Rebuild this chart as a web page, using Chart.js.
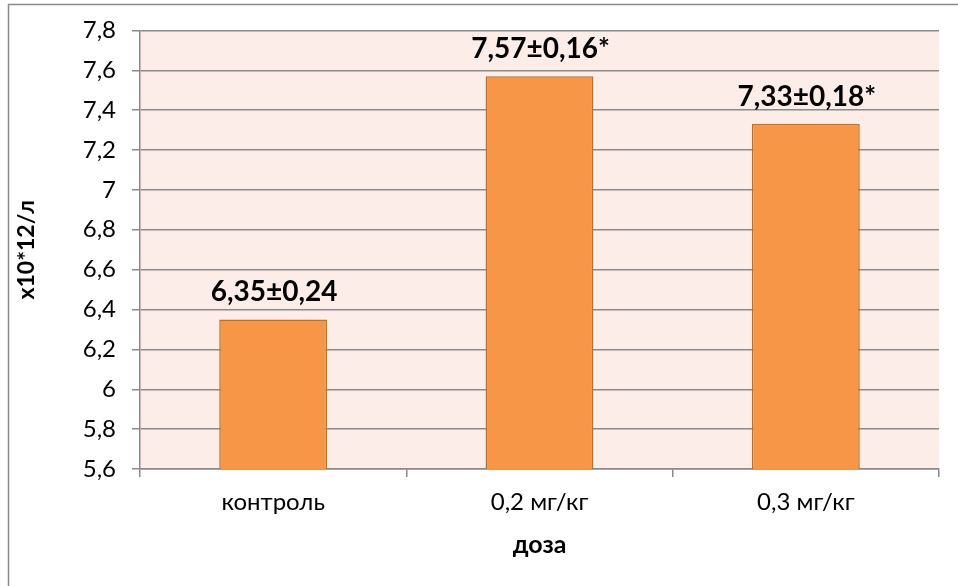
<!DOCTYPE html>
<html>
<head>
<meta charset="utf-8">
<script src="https://cdn.jsdelivr.net/npm/chart.js@4"></script>
<style>
html,body{margin:0;padding:0;background:#fff;}
#wrap{position:relative;width:958px;height:586px;}
</style>
</head>
<body>
<div id="wrap"><canvas id="c" width="958" height="586"></canvas></div>
<script>
const categories = ['контроль', '0,2 мг/кг', '0,3 мг/кг'];
const values = [6.35, 7.57, 7.33];
const valueLabels = ['6,35±0,24', '7,57±0,16*', '7,33±0,18*'];
const yAxisTitle = 'x10*12/л';
const xAxisTitle = 'доза';
const yMin = 5.6, yMax = 7.8, yStep = 0.2;

const FONT = 'Lato, "Open Sans", sans-serif';

const bgPlugin = {
  id: 'bg',
  beforeDraw(chart) {
    const {ctx, chartArea: a} = chart;
    ctx.save();
    ctx.fillStyle = '#FCEDE8';
    ctx.fillRect(a.left, a.top, a.right - a.left, a.bottom - a.top);
    ctx.strokeStyle = '#8a8a8a';
    ctx.lineWidth = 1.5;
    ctx.beginPath();
    ctx.moveTo(8.5, 586);
    ctx.lineTo(8.5, 4.5);
    ctx.lineTo(958, 4.5);
    ctx.stroke();
    ctx.restore();
  }
};

const labelPlugin = {
  id: 'valLabels',
  afterDatasetsDraw(chart) {
    const {ctx} = chart;
    const meta = chart.getDatasetMeta(0);
    ctx.save();
    ctx.font = 'bold 28px ' + FONT;
    ctx.fillStyle = '#000';
    ctx.textAlign = 'center';
    ctx.textBaseline = 'alphabetic';
    meta.data.forEach((bar, i) => {
      ctx.fillText(valueLabels[i], bar.x + 1, bar.y - 18);
    });
    ctx.restore();
  }
};

new Chart(document.getElementById('c'), {
  type: 'bar',
  data: {
    labels: categories,
    datasets: [{
      data: values,
      backgroundColor: '#F79646',
      borderColor: '#B8702F',
      borderWidth: 1.5,
      barPercentage: 0.405,
      categoryPercentage: 1.0
    }]
  },
  options: {
    responsive: false,
    animation: false,
    devicePixelRatio: 1,
    layout: {padding: {left: 8, top: 30, right: 19, bottom: 0}},
    plugins: {legend: {display: false}, tooltip: {enabled: false}},
    scales: {
      x: {
        grid: {display: true, drawOnChartArea: false, color: '#8a8a8a', lineWidth: 1.5, tickLength: 8, offset: true},
        border: {display: true, color: '#8a8a8a', width: 1.5},
        ticks: {color: '#000', font: {family: FONT, size: 24}, padding: 11, maxRotation: 0},
        title: {display: true, text: xAxisTitle, color: '#000', font: {family: FONT, size: 25, weight: 'bold'}, padding: {top: 4, bottom: 26}},
        afterFit(scale) { scale.height = 117; }
      },
      y: {
        min: yMin, max: yMax,
        grid: {color: '#8a8a8a', lineWidth: 1.5, tickLength: 8},
        border: {display: true, color: '#8a8a8a', width: 1.5},
        ticks: {
          stepSize: yStep, color: '#000', font: {family: FONT, size: 24}, padding: 16,
          callback: v => String(Math.round(v * 10) / 10).replace('.', ',')
        },
        title: {display: true, text: yAxisTitle, color: '#000', font: {family: FONT, size: 23, weight: 'bold'}, padding: {top: 5, bottom: 4}},
        afterFit(scale) { scale.width = 132; }
      }
    }
  },
  plugins: [bgPlugin, labelPlugin]
});
</script>
</body>
</html>
